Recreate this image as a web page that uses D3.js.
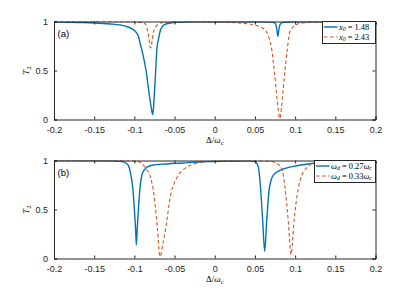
<!DOCTYPE html>
<html>
<head>
<meta charset="utf-8">
<script src="https://cdn.jsdelivr.net/npm/d3@7"></script>
<style>
  body { margin: 0; background: #fff; }
  .tick text { font-family: "Liberation Sans", Arial, sans-serif; font-size: 9px; fill: #262626; }
  .tex { font-family: "Liberation Serif", "DejaVu Serif", serif; fill: #000; }
</style>
</head>
<body>
<script>
//x ticks shared by both panels
var xTicks = [-0.2, -0.15, -0.1, -0.05, 0, 0.05, 0.1, 0.15, 0.2];
var xTickLabels = ["-0.2", "-0.15", "-0.1", "-0.05", "0", "0.05", "0.1", "0.15", "0.2"];
var yTicks = [0, 0.5, 1];
var yTickLabels = ["0", "0.5", "1"];

//panel (a): x0 = 1.48 (blue), x0 = 2.43 (orange)
var aBlueX = [-0.2, -0.17, -0.15, -0.13, -0.118, -0.11, -0.104, -0.099, -0.095, -0.092, -0.089, -0.0855, -0.0835, -0.0814, -0.079, -0.0772,
  -0.0762, -0.0752, -0.0735, -0.072, -0.07, -0.068, -0.065, -0.062, -0.055, -0.045, -0.03, 0, 0.04, 0.06, 0.07, 0.074, 0.076, 0.077,
  0.078, 0.0785, 0.079, 0.08, 0.082, 0.086, 0.1, 0.13, 0.2];
var aBlueY = [0.995, 0.99, 0.985, 0.975, 0.965, 0.95, 0.93, 0.9, 0.85, 0.75, 0.65, 0.5, 0.38, 0.25, 0.12, 0.05,
  0.12, 0.25, 0.5, 0.72, 0.82, 0.9, 0.95, 0.97, 0.985, 0.993, 0.997, 0.998, 0.998, 0.997, 0.994, 0.99, 0.97, 0.93,
  0.87, 0.85, 0.87, 0.93, 0.98, 0.993, 0.997, 0.999, 1];
var aOrangeX = [-0.2, -0.12, -0.1, -0.09, -0.086, -0.084, -0.082, -0.0805, -0.0795, -0.078, -0.076, -0.073, -0.069, -0.06, -0.05,
  -0.04, 0, 0.03, 0.046, 0.058, 0.064, 0.068, 0.0708, 0.074, 0.077, 0.079, 0.081, 0.083, 0.0845, 0.0874, 0.0903, 0.0936, 0.097,
  0.102, 0.11, 0.13, 0.2];
var aOrangeY = [1, 0.999, 0.997, 0.99, 0.97, 0.92, 0.84, 0.74, 0.73, 0.8, 0.9, 0.95, 0.98, 0.993, 0.997,
  0.998, 0.995, 0.985, 0.97, 0.94, 0.9, 0.82, 0.72, 0.5, 0.25, 0.1, 0.01, 0.12, 0.25, 0.5, 0.72, 0.9, 0.94,
  0.97, 0.985, 0.995, 1];

//panel (b): wd = 0.27wc (blue), wd = 0.33wc (orange)
var bBlueX = [-0.2, -0.13, -0.115, -0.11, -0.1075, -0.105, -0.102, -0.1, -0.0985, -0.0976, -0.0965, -0.095, -0.093, -0.09, -0.087,
  -0.084, -0.075, -0.06, -0.04, -0.02, 0, 0.02, 0.04, 0.05, 0.054, 0.057, 0.0597, 0.0621, 0.0646, 0.068, 0.0729, 0.0812, 0.0977,
  0.1206, 0.15, 0.2];
var bBlueY = [1, 0.998, 0.99, 0.97, 0.95, 0.88, 0.72, 0.5, 0.3, 0.14, 0.3, 0.5, 0.72, 0.87, 0.91,
  0.935, 0.955, 0.965, 0.975, 0.985, 0.99, 0.995, 0.996, 0.99, 0.94, 0.72, 0.38, 0.074, 0.38, 0.72, 0.85, 0.9, 0.94,
  0.97, 0.985, 0.995];
var bOrangeX = [-0.2, -0.12, -0.101, -0.095, -0.091, -0.0859, -0.0797, -0.0756, -0.0714, -0.0681, -0.0645, -0.061, -0.0548, -0.0474,
  -0.037, -0.0225, -0.01, 0, 0.04, 0.06, 0.07, 0.077, 0.0833, 0.0874, 0.0915, 0.0949, 0.0986, 0.104, 0.1082, 0.1165, 0.1206, 0.14, 0.2];
var bOrangeY = [1, 0.999, 0.995, 0.99, 0.97, 0.92, 0.82, 0.65, 0.31, 0.02, 0.15, 0.31, 0.65, 0.82,
  0.92, 0.97, 0.99, 0.995, 0.998, 0.995, 0.99, 0.97, 0.92, 0.72, 0.38, 0.04, 0.38, 0.72, 0.85, 0.94, 0.97, 0.99, 0.998];

var panels = [
  {label: "(a)", top: 21.5, series: [
    {x: aBlueX, y: aBlueY, color: "#0072BD", dash: null, name: ["x", "0", " = 1.48"]},
    {x: aOrangeX, y: aOrangeY, color: "#D95319", dash: "3.5,2.5", name: ["x", "0", " = 2.43"]}
  ], legendLeft: 322.5},
  {label: "(b)", top: 160.5, series: [
    {x: bBlueX, y: bBlueY, color: "#0072BD", dash: null, name: ["ω", "d", " = 0.27ω", "c"]},
    {x: bOrangeX, y: bOrangeY, color: "#D95319", dash: "3.5,2.5", name: ["ω", "d", " = 0.33ω", "c"]}
  ], legendLeft: 314.5}
];

var w = 415, h = 294;
var left = 54, right = 375.5, ph = 98;

var svg = d3.select("body").append("svg")
  .attr("width", w)
  .attr("height", h);

var x = d3.scaleLinear().domain([-0.2, 0.2]).range([left, right]);

panels.forEach(function(p, pi){
  var y = d3.scaleLinear().domain([0, 1]).range([p.top + ph, p.top]);
  var g = svg.append("g").attr("class", "panel");

  //clip lines to the axes box
  g.append("clipPath").attr("id", "clip" + pi)
    .append("rect")
    .attr("x", left).attr("y", p.top)
    .attr("width", right - left).attr("height", ph);

  var line = d3.line()
    .x(function(d){ return x(d[0]); })
    .y(function(d){ return y(d[1]); })
    .curve(d3.curveMonotoneX);

  //blue first, orange on top (matlab plot order)
  p.series.forEach(function(s){
    var pts = s.x.map(function(v, i){ return [v, s.y[i]]; });
    g.append("path")
      .datum(pts)
      .attr("clip-path", "url(#clip" + pi + ")")
      .attr("d", line)
      .attr("fill", "none")
      .attr("stroke", s.color)
      .attr("stroke-width", s.dash ? 1.1 : 1.4)
      .attr("stroke-dasharray", s.dash);
  });

  //axes, ticks inside on all four sides
  var bottom = g.append("g").attr("transform", "translate(0," + (p.top + ph) + ")")
    .call(d3.axisBottom(x).tickValues(xTicks).tickSize(-3).tickPadding(7)
      .tickFormat(function(d, i){ return xTickLabels[i]; }));
  var topAx = g.append("g").attr("transform", "translate(0," + p.top + ")")
    .call(d3.axisTop(x).tickValues(xTicks).tickSize(-3).tickFormat(""));
  var leftAx = g.append("g").attr("transform", "translate(" + left + ",0)")
    .call(d3.axisLeft(y).tickValues(yTicks).tickSize(-3).tickPadding(6)
      .tickFormat(function(d, i){ return yTickLabels[i]; }));
  var rightAx = g.append("g").attr("transform", "translate(" + right + ",0)")
    .call(d3.axisRight(y).tickValues(yTicks).tickSize(-3).tickFormat(""));
  [bottom, topAx, leftAx, rightAx].forEach(function(a){
    a.select(".domain").attr("stroke", "#262626").attr("stroke-width", 1);
    a.selectAll(".tick line").attr("stroke", "#262626");
  });

  //panel label
  g.append("text")
    .attr("x", left + 3.5).attr("y", p.top + 15)
    .style("font-family", "Liberation Sans, Arial, sans-serif")
    .style("font-size", "9.5px")
    .text(p.label);

  //y label T_2
  var yl = g.append("text").attr("class", "tex")
    .attr("transform", "translate(29," + (p.top + ph / 2) + ") rotate(-90)")
    .attr("text-anchor", "middle")
    .style("font-size", "9px");
  yl.append("tspan").style("font-style", "italic").text("T");
  yl.append("tspan").attr("dy", 2).style("font-size", "6.5px").text("2");

  //x label Delta/omega_c
  var xl = g.append("text").attr("class", "tex")
    .attr("x", (left + right) / 2).attr("y", p.top + ph + 23)
    .attr("text-anchor", "middle")
    .style("font-size", "9px");
  xl.append("tspan").text("Δ/");
  xl.append("tspan").style("font-style", "italic").text("ω");
  xl.append("tspan").attr("dy", 2).style("font-size", "6.5px").text("c");

  //legend box
  var lg = g.append("g").attr("class", "legend");
  lg.append("rect")
    .attr("x", p.legendLeft).attr("y", p.top)
    .attr("width", right - p.legendLeft).attr("height", 22)
    .attr("fill", "#fff")
    .attr("stroke", "#262626")
    .attr("stroke-width", 1);
  p.series.forEach(function(s, i){
    var ly = p.top + 5.5 + i * 10;
    lg.append("line")
      .attr("x1", p.legendLeft + 1.5).attr("x2", p.legendLeft + 15)
      .attr("y1", ly).attr("y2", ly)
      .attr("stroke", s.color)
      .attr("stroke-width", s.dash ? 1.1 : 1.4)
      .attr("stroke-dasharray", s.dash);
    var t = lg.append("text").attr("class", "tex")
      .attr("x", p.legendLeft + 16.5).attr("y", ly + 2.8)
      .style("font-size", "8.4px");
    t.append("tspan").style("font-style", "italic").text(s.name[0]);
    t.append("tspan").attr("dy", 1.5).style("font-size", "5.8px").style("font-style", "italic").text(s.name[1]);
    t.append("tspan").attr("dy", -1.5).text(s.name[2].replace("ω", ""));
    if (s.name.length > 3) {
      t.append("tspan").style("font-style", "italic").text("ω");
      t.append("tspan").attr("dy", 1.5).style("font-size", "5.8px").style("font-style", "italic").text(s.name[3]);
    }
  });
});
</script>
</body>
</html>
